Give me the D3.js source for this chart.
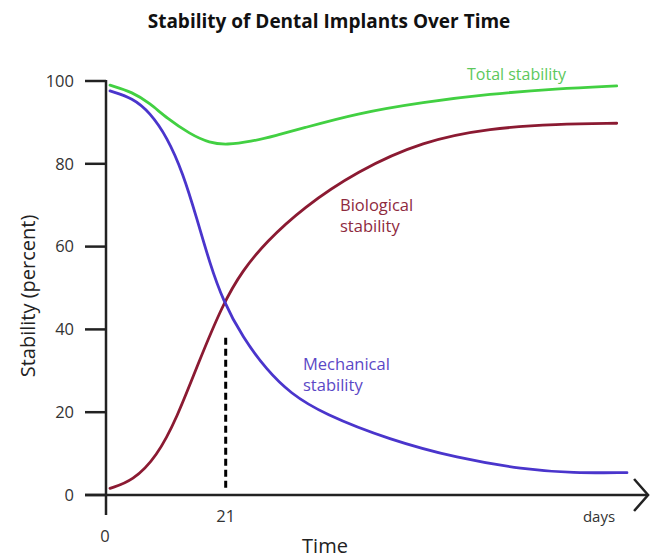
<!DOCTYPE html>
<html>
<head>
<meta charset="utf-8">
<script src="https://cdn.jsdelivr.net/npm/d3@7"></script>
<style>
  body { margin: 0; background: #fff; }
  svg { display: block; font-family: "Open Sans", sans-serif; }
</style>
</head>
<body>
<div id="chart"></div>
<script>
// values (days, percent)
const totalDays = [0.7, 4.7, 7.7, 10.7, 14.7, 18.2, 21.2, 25.3, 30, 34, 44, 55.6, 67.4, 79.1, 89.6];
const totalVals = [99, 97.3, 94.6, 91.0, 87.2, 85.0, 84.6, 85.3, 86.9, 88.4, 92.2, 94.9, 96.9, 98.1, 98.8];

const mechDays = [0.7, 4.7, 7.7, 10.7, 13.5, 16, 18.2, 20.5, 24, 28.2, 32.3, 38.1, 49.8, 61.6, 73.2, 81.9, 91.4];
const mechVals = [97.6, 95.9, 92.4, 86.5, 77.8, 66.5, 56.0, 47.0, 38.0, 30.2, 24.6, 19.6, 13.3, 8.9, 6.2, 5.3, 5.4];

const bioDays = [0.7, 4.7, 8.9, 12.5, 16, 20.5, 24, 28, 34.6, 44, 55.6, 67.4, 79.1, 89.6];
const bioVals = [1.6, 3.4, 9.2, 18.8, 31.2, 46.2, 54.3, 61.0, 69.4, 78.2, 85.5, 88.6, 89.6, 89.8];

const yTicks = [0, 20, 40, 60, 80, 100];
const xTicks = [21];
const markerDay = 21;
const markerTop = 38;

const width = 657, height = 558;
const svg = d3.select("#chart").append("svg")
    .attr("width", width)
    .attr("height", height);

const x = d3.scaleLinear().domain([0, 100]).range([106, 676]);
const y = d3.scaleLinear().domain([0, 100]).range([495, 81]);

// title
svg.append("text")
    .attr("x", 329)
    .attr("y", 28)
    .attr("text-anchor", "middle")
    .attr("font-size", 19)
    .attr("font-weight", "bold")
    .attr("fill", "#111")
    .text("Stability of Dental Implants Over Time");

// y axis
const yAxis = svg.append("g").attr("stroke", "#222").attr("stroke-width", 2.5);
yAxis.append("line")
    .attr("x1", x(0)).attr("x2", x(0))
    .attr("y1", y(100) - 1).attr("y2", y(0) + 20);
yAxis.selectAll("line.tick")
    .data(yTicks)
    .join("line")
    .attr("class", "tick")
    .attr("x1", x(0) - 21).attr("x2", x(0))
    .attr("y1", d => y(d)).attr("y2", d => y(d));

svg.append("g")
    .attr("font-size", 16.5)
    .attr("fill", "#333")
    .attr("text-anchor", "end")
    .selectAll("text")
    .data(yTicks)
    .join("text")
    .attr("x", x(0) - 32)
    .attr("y", d => y(d))
    .attr("dy", "0.35em")
    .text(d => d);

// x axis with arrow
const arrowX = x(95.1);
const xAxis = svg.append("g").attr("stroke", "#222").attr("stroke-width", 2.5).attr("fill", "none");
xAxis.append("line")
    .attr("x1", x(0) - 21).attr("x2", arrowX)
    .attr("y1", y(0)).attr("y2", y(0));
xAxis.append("path")
    .attr("stroke-linejoin", "miter")
    .attr("d", `M${arrowX - 14},${y(0) - 16} L${arrowX},${y(0)} L${arrowX - 14},${y(0) + 16}`);

svg.append("g")
    .attr("font-size", 16.5)
    .attr("fill", "#333")
    .attr("text-anchor", "middle")
    .selectAll("text")
    .data(xTicks)
    .join("text")
    .attr("x", d => x(d))
    .attr("y", 522)
    .text(d => d);

svg.append("text")
    .attr("x", x(0) - 1).attr("y", 542)
    .attr("text-anchor", "middle")
    .attr("font-size", 16.5).attr("fill", "#333")
    .text("0");

svg.append("text")
    .attr("x", 599).attr("y", 522)
    .attr("text-anchor", "middle")
    .attr("font-size", 15).attr("fill", "#333")
    .text("days");

svg.append("text")
    .attr("x", 325).attr("y", 553)
    .attr("text-anchor", "middle")
    .attr("font-size", 20).attr("fill", "#222")
    .text("Time");

svg.append("text")
    .attr("transform", "translate(35,296) rotate(-90)")
    .attr("text-anchor", "middle")
    .attr("font-size", 20).attr("fill", "#222")
    .text("Stability (percent)");

// dashed marker at day 21
svg.append("line")
    .attr("x1", x(markerDay)).attr("x2", x(markerDay))
    .attr("y1", y(markerTop)).attr("y2", y(1))
    .attr("stroke", "#000")
    .attr("stroke-width", 3)
    .attr("stroke-dasharray", "7,4");

// curves
const line = d3.line()
    .x(d => x(d[0]))
    .y(d => y(d[1]))
    .curve(d3.curveBasis);

const series = [
  { days: bioDays, vals: bioVals, color: "#8b1a32" },
  { days: mechDays, vals: mechVals, color: "#4a35cc" },
  { days: totalDays, vals: totalVals, color: "#42d042" }
];

svg.append("g")
    .attr("fill", "none")
    .attr("stroke-width", 2.8)
    .attr("stroke-linecap", "round")
    .selectAll("path")
    .data(series)
    .join("path")
    .attr("stroke", d => d.color)
    .attr("d", d => line(d3.zip(d.days, d.vals)));

// series labels
const labels = [
  { lines: ["Total stability"], x: 467, y: 80, size: 16, color: "#5cc85c" },
  { lines: ["Biological", "stability"], x: 340, y: 211, size: 16.5, color: "#8e2a3e" },
  { lines: ["Mechanical", "stability"], x: 303, y: 370, size: 16.5, color: "#5b48c6" }
];

svg.append("g")
    .selectAll("text")
    .data(labels)
    .join("text")
    .attr("x", d => d.x)
    .attr("y", d => d.y)
    .attr("font-size", d => d.size)
    .attr("fill", d => d.color)
    .selectAll("tspan")
    .data(d => d.lines.map(t => ({ t, x: d.x })))
    .join("tspan")
    .attr("x", d => d.x)
    .attr("dy", (d, i) => i === 0 ? 0 : 21)
    .text(d => d.t);
</script>
</body>
</html>
